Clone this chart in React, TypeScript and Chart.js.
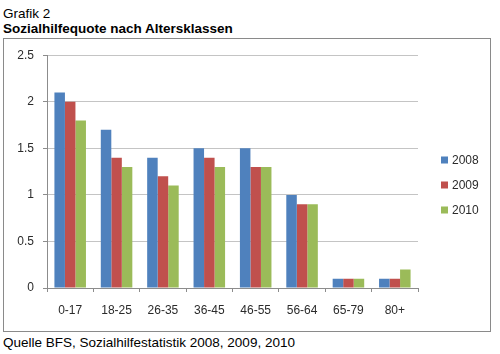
import React, { useEffect, useRef } from "react";
import { Chart, registerables } from "chart.js";

Chart.register(...registerables);

const categories = ["0-17", "18-25", "26-35", "36-45", "46-55", "56-64", "65-79", "80+"];
const values2008 = [2.1, 1.7, 1.4, 1.5, 1.5, 1.0, 0.1, 0.1];
const values2009 = [2.0, 1.4, 1.2, 1.4, 1.3, 0.9, 0.1, 0.1];
const values2010 = [1.8, 1.3, 1.1, 1.3, 1.3, 0.9, 0.1, 0.2];
const seriesLabels = ["2008", "2009", "2010"];
const yTicks = [0, 0.5, 1, 1.5, 2, 2.5];

const COLORS = ["#4F81BD", "#C0504D", "#9BBB59"];
const FONT = "'Liberation Sans', Arial, sans-serif";
const TEXT = "#2b2b2b";

const legendPlugin = {
  id: "customLegend",
  afterDraw(chart: any) {
    const ctx = chart.ctx;
    const area = chart.chartArea;
    ctx.save();
    ctx.font = `12px ${FONT}`;
    ctx.textBaseline = "middle";
    ctx.textAlign = "left";
    chart.data.datasets.forEach((ds: any, i: number) => {
      const cy = 121 + i * 25;
      const bx = area.right + 23;
      ctx.fillStyle = ds.backgroundColor;
      ctx.fillRect(bx, cy - 3.5, 7, 7);
      ctx.fillStyle = TEXT;
      ctx.fillText(ds.label, bx + 11, cy + 0.5);
    });
    ctx.restore();
  },
};

export default function App() {
  const ref = useRef<HTMLCanvasElement | null>(null);
  useEffect(() => {
    if (!ref.current) return;
    const chart = new Chart(ref.current, {
      type: "bar",
      data: {
        labels: categories,
        datasets: [values2008, values2009, values2010].map((v, i) => ({
          label: seriesLabels[i],
          data: v,
          backgroundColor: COLORS[i],
          borderWidth: 0,
          categoryPercentage: 0.68,
          barPercentage: 1.0,
        })),
      },
      options: {
        animation: false,
        responsive: false,
        maintainAspectRatio: false,
        devicePixelRatio: 1,
        layout: { padding: { left: 0, right: 72, top: 14, bottom: 0 } },
        plugins: { legend: { display: false }, tooltip: { enabled: false } },
        scales: {
          x: {
            afterFit: (s: any) => {
              s.height = 43;
            },
            grid: {
              offset: true,
              drawOnChartArea: false,
              drawTicks: true,
              tickLength: 4,
              color: "#8c8c8c",
            },
            border: { color: "#8c8c8c", width: 1 },
            ticks: { font: { family: FONT, size: 12 }, color: TEXT, padding: 11, maxRotation: 0 },
          },
          y: {
            min: 0,
            max: 2.5,
            afterFit: (s: any) => {
              s.width = 43;
            },
            afterBuildTicks: (s: any) => {
              s.ticks = yTicks.map((v) => ({ value: v }));
            },
            grid: {
              color: "#c4c4c4",
              tickLength: 4,
              drawTicks: true,
              tickColor: "#8c8c8c",
            },
            border: { color: "#8c8c8c", width: 1 },
            ticks: {
              font: { family: FONT, size: 12 },
              color: TEXT,
              padding: 9,
              callback: (v: any) => String(v),
            },
          },
        },
      },
      plugins: [legendPlugin],
    });
    return () => chart.destroy();
  }, []);

  return (
    <div
      style={{
        position: "absolute",
        left: 0,
        top: 0,
        width: 500,
        height: 354,
        background: "#fff",
        fontFamily: FONT,
        color: "#000",
      }}
    >
      <div style={{ position: "absolute", left: 3, top: 6, fontSize: 13.5, lineHeight: "15px", whiteSpace: "nowrap" }}>
        Grafik 2
      </div>
      <div
        style={{
          position: "absolute",
          left: 3,
          top: 21,
          fontSize: 13.5,
          lineHeight: "15px",
          fontWeight: "bold",
          whiteSpace: "nowrap",
        }}
      >
        Sozialhilfequote nach Altersklassen
      </div>
      <div
        style={{
          position: "absolute",
          left: 3,
          top: 38,
          width: 486,
          height: 292,
          border: "1px solid #8a8a8a",
        }}
      >
        <canvas ref={ref} width={486} height={292} style={{ display: "block", width: 486, height: 292 }} />
      </div>
      <div style={{ position: "absolute", left: 3, top: 335, fontSize: 13.5, lineHeight: "15px", whiteSpace: "nowrap" }}>
        Quelle BFS, Sozialhilfestatistik 2008, 2009, 2010
      </div>
    </div>
  );
}
